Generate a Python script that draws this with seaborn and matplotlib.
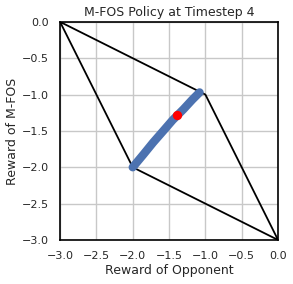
import numpy as np
import pandas as pd
import seaborn as sns
import matplotlib
matplotlib.use('Agg')
from matplotlib import pyplot as plt

# feasible reward region (polygon vertices)
poly_x = [-3.0, -1.0, 0.0, -2.0, -3.0]
poly_y = [0.0, -1.0, -3.0, -2.0, 0.0]

# policy trajectory
traj_x = [-2.0, -1.85, -1.72, -1.58, -1.45, -1.3, -1.18, -1.08]
traj_y = [-2.0, -1.82, -1.66, -1.5, -1.35, -1.2, -1.07, -0.97]

# current point
cur_x = [-1.39]
cur_y = [-1.28]

sns.set_theme(style='whitegrid')
plt.rcParams['axes.edgecolor'] = 'black'
plt.rcParams['grid.color'] = '#c8c8c8'

fig, ax = plt.subplots(figsize=(2.93, 2.84), dpi=100)
fig.subplots_adjust(left=0.205, right=0.949, bottom=0.155, top=0.923)

ax.plot(poly_x, poly_y, color='black', lw=1.3, zorder=2)
traj = pd.DataFrame({'x': traj_x, 'y': traj_y})
sns.lineplot(data=traj, x='x', y='y', ax=ax, color='#4c72b0', lw=6,
             solid_capstyle='round', sort=False, zorder=3)
ax.scatter(cur_x, cur_y, color='red', s=45, zorder=4, linewidths=0)

ax.set_xlim(-3, 0)
ax.set_ylim(-3, 0)
ax.set_xticks(np.arange(-3, 0.01, 0.5))
ax.set_yticks(np.arange(-3, 0.01, 0.5))
ax.tick_params(labelsize=8, pad=2)
ax.set_xlabel('Reward of Opponent', fontsize=9, labelpad=2)
ax.set_ylabel('Reward of M-FOS', fontsize=9, labelpad=2)
ax.set_title('M-FOS Policy at Timestep 4', fontsize=9, pad=4)
for s in ax.spines.values():
    s.set_linewidth(1.2)

fig.savefig('out.png', dpi=100)
